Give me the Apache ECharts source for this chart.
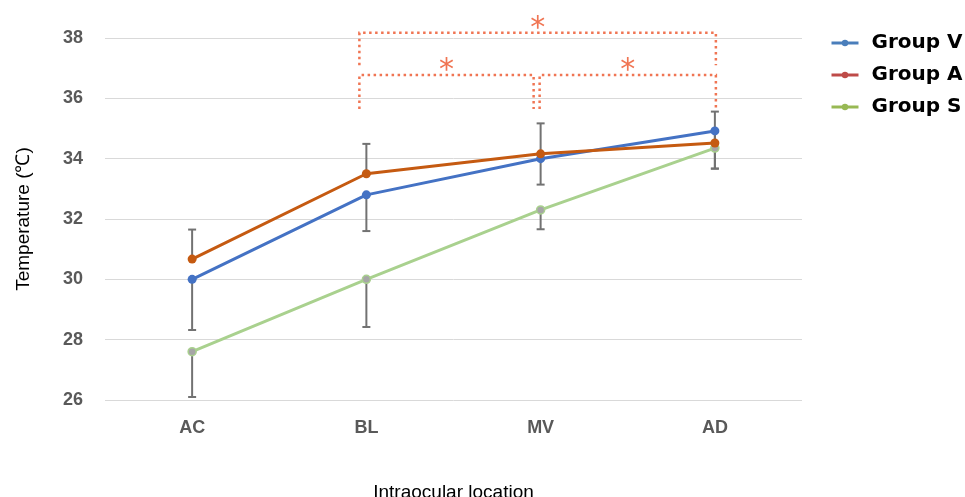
<!DOCTYPE html>
<html>
<head>
<meta charset="utf-8">
<script src="https://cdn.jsdelivr.net/npm/echarts@6/dist/echarts.min.js"></script>
<style>
  html, body { margin: 0; padding: 0; background: #fff; }
  #chart { width: 965px; height: 497px; }
</style>
</head>
<body>
<div id="chart"></div>
<script>
// categories and values
var locations = ['AC', 'BL', 'MV', 'AD'];
var groupV = [30.0, 32.8, 34.0, 34.92];
var groupA = [30.67, 33.5, 34.16, 34.52];
var groupS = [27.6, 30.0, 32.3, 34.35];

// visible error bars: [category index, low, high]
var errV = [[0, 28.32, 30.0], [1, 31.6, 32.8], [2, 33.14, 34.0], [3, 33.67, 34.92]];
var errA = [[0, 30.67, 31.65], [1, 33.5, 34.49], [2, 34.16, 35.17], [3, 34.52, 35.56]];
var errS = [[0, 26.1, 27.6], [1, 28.42, 30.0], [2, 31.66, 32.3], [3, 33.67, 34.35]];

// significance brackets: [from index, to index, bar level, foot level]
var brackets = [[1, 3, 38.17, 37.1], [1, 2, 36.77, 35.65], [2, 3, 36.77, 35.65]];

var chart = echarts.init(document.getElementById('chart'));

function errorBar(params, api) {
    var lo = api.coord([api.value(0), api.value(1)]);
    var hi = api.coord([api.value(0), api.value(2)]);
    var st = { stroke: '#727272', lineWidth: 2 };
    return {
        type: 'group',
        children: [
            { type: 'line', shape: { x1: lo[0], y1: lo[1], x2: hi[0], y2: hi[1] }, style: st },
            { type: 'line', shape: { x1: lo[0] - 4, y1: lo[1], x2: lo[0] + 4, y2: lo[1] }, style: st },
            { type: 'line', shape: { x1: hi[0] - 4, y1: hi[1], x2: hi[0] + 4, y2: hi[1] }, style: st }
        ]
    };
}

function bracket(params, api) {
    var s = api.value(0), e = api.value(1);
    var a = api.coord([s, api.value(2)]);
    var b = api.coord([e, api.value(2)]);
    var foot = api.coord([s, api.value(3)])[1];
    var x1 = a[0] + (s > 1 ? -1 : -7);
    var x2 = b[0] + (e < locations.length - 1 ? -7 : 1);
    var st = { stroke: '#f07553', lineWidth: 2.5, lineDash: [2.5, 3.5], fill: null };
    return {
        type: 'group',
        children: [
            { type: 'polyline', shape: { points: [[x1, foot], [x1, a[1]], [x2, a[1]], [x2, foot]] }, style: st },
            { type: 'text', style: { text: '*', x: (x1 + x2) / 2, y: a[1] + 11, align: 'center', verticalAlign: 'bottom',
                fill: '#f07553', fontSize: 30, fontFamily: 'DejaVu Sans', fontWeight: 'normal' } }
        ]
    };
}

var option = {
    animation: false,
    grid: { left: 105, right: 163, top: 38, bottom: 97, outerBoundsMode: 'none' },
    legend: {
        orient: 'vertical',
        left: 825,
        top: 28,
        itemWidth: 27,
        itemHeight: 8,
        itemGap: 12,
        textStyle: { fontFamily: 'DejaVu Sans', fontSize: 20, fontWeight: 'bold', color: '#000', padding: [0, 0, 0, 8] },
        data: [
            { name: 'Group V', itemStyle: { color: '#4a7ebb', borderWidth: 0 }, lineStyle: { color: '#4a7ebb', width: 3 } },
            { name: 'Group A', itemStyle: { color: '#be4b48', borderWidth: 0 }, lineStyle: { color: '#be4b48', width: 3 } },
            { name: 'Group S', itemStyle: { color: '#98b954', borderWidth: 0 }, lineStyle: { color: '#98b954', width: 3 } }
        ]
    },
    xAxis: {
        type: 'category',
        data: locations,
        boundaryGap: true,
        axisLine: { show: false },
        axisTick: { show: false },
        axisLabel: { margin: 19, fontFamily: 'Liberation Sans', fontSize: 18, fontWeight: 'bold', color: '#595959' },
        name: 'Intraocular location',
        nameLocation: 'middle',
        nameGap: 83,
        nameTextStyle: { fontFamily: 'Liberation Sans', fontSize: 19, color: '#000' }
    },
    yAxis: {
        type: 'value',
        min: 26,
        max: 38,
        interval: 2,
        axisLine: { show: false },
        axisTick: { show: false },
        splitLine: { lineStyle: { color: '#d9d9d9', width: 1 } },
        axisLabel: { margin: 22, fontFamily: 'Liberation Sans', fontSize: 18, fontWeight: 'bold', color: '#595959' },
        name: 'Temperature (\u2103)',
        nameLocation: 'middle',
        nameGap: 72,
        nameTextStyle: { fontFamily: 'Liberation Sans', fontSize: 19, color: '#000' }
    },
    series: [
        {
            name: 'Group S', type: 'line', data: groupS, z: 3,
            symbol: 'circle', symbolSize: 8,
            lineStyle: { color: '#a9d18e', width: 3 },
            itemStyle: { color: '#a6a6a6', borderColor: '#a9d18e', borderWidth: 1.5 }
        },
        {
            name: 'Group V', type: 'line', data: groupV, z: 4,
            symbol: 'circle', symbolSize: 9,
            lineStyle: { color: '#4472c4', width: 3 },
            itemStyle: { color: '#4472c4' }
        },
        {
            name: 'Group A', type: 'line', data: groupA, z: 5,
            symbol: 'circle', symbolSize: 9,
            lineStyle: { color: '#c55a11', width: 3 },
            itemStyle: { color: '#c55a11' }
        },
        { type: 'custom', renderItem: errorBar, data: errV, z: 2, silent: true },
        { type: 'custom', renderItem: errorBar, data: errA, z: 2, silent: true },
        { type: 'custom', renderItem: errorBar, data: errS, z: 2, silent: true },
        { type: 'custom', renderItem: bracket, data: brackets, z: 6, clip: false, silent: true }
    ]
};

chart.setOption(option);
</script>
</body>
</html>
